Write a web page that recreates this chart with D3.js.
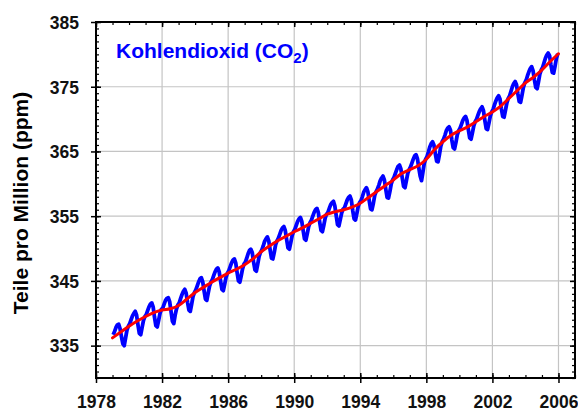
<!DOCTYPE html>
<html>
<head>
<meta charset="utf-8">
<script src="https://cdn.jsdelivr.net/npm/d3@7"></script>
<style>
  body { margin: 0; background: #fff; }
  svg { display: block; }
</style>
</head>
<body>
<svg id="chart" width="578" height="412"></svg>
<script>
// monthly CO2 (ppm), one row per year, Jan..Dec
const years = [1979, 1980, 1981, 1982, 1983, 1984, 1985, 1986, 1987, 1988, 1989, 1990, 1991, 1992,
  1993, 1994, 1995, 1996, 1997, 1998, 1999, 2000, 2001, 2002, 2003, 2004, 2005];
const monthly = [
  [336.7, 337.2, 337.8, 338.2, 338.3, 337.6, 336.4, 335.3, 335.0, 336.2, 337.4, 338.0],
  [338.4, 339.0, 339.6, 340.0, 340.3, 339.7, 338.2, 336.9, 336.7, 337.8, 338.9, 339.5],
  [339.8, 340.4, 341.0, 341.4, 341.6, 341.0, 339.4, 338.1, 337.9, 338.9, 340.0, 340.6],
  [340.8, 341.4, 342.0, 342.3, 342.4, 341.8, 340.3, 338.8, 338.4, 339.7, 340.7, 341.3],
  [341.6, 342.3, 342.9, 343.4, 343.7, 343.1, 341.7, 340.5, 340.3, 341.4, 342.6, 343.2],
  [343.6, 344.2, 344.8, 345.3, 345.5, 344.9, 343.5, 342.2, 342.0, 343.1, 344.2, 344.8],
  [345.2, 345.8, 346.4, 346.8, 347.0, 346.4, 345.0, 343.7, 343.5, 344.5, 345.6, 346.2],
  [346.6, 347.2, 347.8, 348.2, 348.4, 347.8, 346.3, 345.0, 344.8, 345.8, 346.9, 347.6],
  [347.9, 348.5, 349.2, 349.7, 349.9, 349.4, 347.9, 346.7, 346.5, 347.6, 348.8, 349.4],
  [349.8, 350.4, 351.1, 351.5, 351.8, 351.2, 349.8, 348.5, 348.4, 349.4, 350.6, 351.2],
  [351.6, 352.2, 352.8, 353.2, 353.4, 352.8, 351.4, 350.1, 349.9, 350.9, 352.0, 352.6],
  [353.0, 353.6, 354.2, 354.6, 354.8, 354.2, 352.8, 351.5, 351.3, 352.3, 353.4, 354.0],
  [354.4, 355.0, 355.6, 356.0, 356.2, 355.6, 354.1, 352.8, 352.6, 353.6, 354.7, 355.3],
  [355.6, 356.2, 356.8, 357.1, 357.3, 356.6, 355.1, 353.7, 353.5, 354.5, 355.5, 356.1],
  [356.3, 356.9, 357.5, 357.9, 358.1, 357.5, 355.9, 354.6, 354.4, 355.4, 356.5, 357.1],
  [357.4, 358.0, 358.7, 359.1, 359.4, 358.8, 357.4, 356.1, 356.0, 357.0, 358.2, 358.8],
  [359.2, 359.8, 360.5, 360.9, 361.2, 360.6, 359.2, 357.9, 357.8, 358.8, 360.0, 360.6],
  [361.0, 361.6, 362.2, 362.7, 362.9, 362.3, 360.9, 359.6, 359.4, 360.5, 361.6, 362.2],
  [362.6, 363.2, 363.8, 364.3, 364.5, 363.9, 362.5, 361.2, 360.5, 361.8, 363.2, 363.8],
  [364.2, 364.9, 365.7, 366.2, 366.5, 366.0, 364.7, 363.5, 363.4, 364.5, 365.8, 366.5],
  [366.9, 367.5, 368.2, 368.6, 368.8, 368.3, 366.8, 365.6, 365.4, 366.4, 367.6, 368.2],
  [368.6, 369.2, 369.8, 370.2, 370.4, 369.8, 368.4, 367.1, 366.9, 367.9, 369.0, 369.6],
  [370.0, 370.6, 371.2, 371.6, 371.9, 371.3, 369.8, 368.5, 368.4, 369.4, 370.5, 371.1],
  [371.5, 372.2, 372.8, 373.3, 373.6, 373.1, 371.6, 370.4, 370.3, 371.4, 372.5, 373.2],
  [373.6, 374.3, 375.0, 375.5, 375.8, 375.3, 373.9, 372.7, 372.6, 373.7, 374.9, 375.6],
  [376.0, 376.7, 377.3, 377.8, 378.1, 377.5, 376.1, 374.9, 374.7, 375.8, 377.0, 377.6],
  [378.0, 378.7, 379.4, 379.9, 380.2, 379.8, 378.4, 377.2, 377.1, 378.2, 379.4, 380.1]
];

// smoothed trend (red), half-year steps
const trendYears = [1979, 1979.5, 1980, 1980.5, 1981, 1981.5, 1982, 1982.5, 1983, 1983.5, 1984, 1984.5,
  1985, 1985.5, 1986, 1986.5, 1987, 1987.5, 1988, 1988.5, 1989, 1989.5, 1990, 1990.5, 1991, 1991.5,
  1992, 1992.5, 1993, 1993.5, 1994, 1994.5, 1995, 1995.5, 1996, 1996.5, 1997, 1997.5, 1998, 1998.5,
  1999, 1999.5, 2000, 2000.5, 2001, 2001.5, 2002, 2002.5, 2003, 2003.5, 2004, 2004.5, 2005, 2005.5, 2006];
const trendValues = [336.2, 337.1, 338.0, 338.8, 339.5, 340.1, 340.5, 340.7, 341.2, 342.2, 343.2, 344.0,
  344.8, 345.5, 346.2, 346.8, 347.5, 348.4, 349.5, 350.4, 351.2, 351.9, 352.6, 353.2, 353.9, 354.6,
  355.3, 355.7, 356.0, 356.4, 357.0, 357.9, 358.8, 359.7, 360.6, 361.6, 362.2, 362.8, 363.8, 365.3,
  366.5, 367.5, 368.2, 368.8, 369.6, 370.4, 371.1, 372.0, 373.2, 374.4, 375.6, 376.5, 377.6, 378.9, 380.1];

const xTicks = [1978, 1982, 1986, 1990, 1994, 1998, 2002, 2006];
const yTicks = [335, 345, 355, 365, 375, 385];
const xMinor = d3.range(1978, 2008);
const yMinor = d3.range(330, 386);

const title = "Kohlendioxid (CO";
const yTitle = "Teile pro Million (ppm)";

const font = "'Liberation Sans', Arial, sans-serif";

const svg = d3.select("#chart");
svg.append("rect").attr("width", 578).attr("height", 412).attr("fill", "#fff");

const x = d3.scaleLinear().domain([1978, 2007]).range([96, 575]);
const y = d3.scaleLinear().domain([330, 385]).range([378, 22]);

// grid
svg.append("g").selectAll("line.vx").data(xTicks.slice(1)).join("line")
  .attr("x1", d => x(d)).attr("x2", d => x(d))
  .attr("y1", y(330)).attr("y2", y(385))
  .attr("stroke", "#c4c4c4").attr("stroke-width", 1.2);
svg.append("g").selectAll("line.hy").data(yTicks.slice(0, -1)).join("line")
  .attr("y1", d => y(d)).attr("y2", d => y(d))
  .attr("x1", x(1978)).attr("x2", x(2007))
  .attr("stroke", "#c4c4c4").attr("stroke-width", 1.2);

// minor ticks, all pointing inward
const minor = (axis, tr) => svg.append("g").attr("transform", tr)
  .call(axis.tickSizeOuter(0).tickFormat(""))
  .call(g => g.select(".domain").remove())
  .call(g => g.selectAll("line").attr("stroke", "#000").attr("stroke-width", 1.2));
minor(d3.axisBottom(x).tickValues(xMinor).tickSize(-3), `translate(0,${y(330)})`);
minor(d3.axisTop(x).tickValues(xMinor).tickSize(-3), `translate(0,${y(385)})`);
minor(d3.axisLeft(y).tickValues(yMinor).tickSize(-3), `translate(${x(1978)},0)`);
minor(d3.axisRight(y).tickValues(yMinor).tickSize(-3), `translate(${x(2007)},0)`);

// major ticks, crossing the frame
const major = (axis, tr) => svg.append("g").attr("transform", tr)
  .call(axis.tickSizeOuter(0).tickFormat(""))
  .call(g => g.select(".domain").remove())
  .call(g => g.selectAll("line").attr("stroke", "#000").attr("stroke-width", 1.5));
major(d3.axisBottom(x).tickValues(xTicks).tickSize(5), `translate(0,${y(330)})`);
major(d3.axisBottom(x).tickValues(xTicks).tickSize(-5), `translate(0,${y(330)})`);
major(d3.axisTop(x).tickValues(xTicks).tickSize(-5), `translate(0,${y(385)})`);
major(d3.axisLeft(y).tickValues(yTicks).tickSize(5), `translate(${x(1978)},0)`);
major(d3.axisLeft(y).tickValues(yTicks).tickSize(-5), `translate(${x(1978)},0)`);
major(d3.axisRight(y).tickValues(yTicks).tickSize(-5), `translate(${x(2007)},0)`);

// tick labels
svg.append("g").attr("transform", `translate(0,${y(330)})`)
  .call(d3.axisBottom(x).tickValues(xTicks).tickSize(0).tickPadding(0).tickFormat(d3.format("d")))
  .call(g => g.select(".domain").remove())
  .call(g => g.selectAll("text").attr("y", 30).attr("dy", null)
    .attr("font-family", font).attr("font-size", 17.5).attr("font-weight", "bold").attr("fill", "#111"));
svg.append("g").attr("transform", `translate(${x(1978)},0)`)
  .call(d3.axisLeft(y).tickValues(yTicks).tickSize(0).tickPadding(17).tickFormat(d3.format("d")))
  .call(g => g.select(".domain").remove())
  .call(g => g.selectAll("text").attr("dy", "0.36em")
    .attr("font-family", font).attr("font-size", 17.5).attr("font-weight", "bold").attr("fill", "#111"));

// frame
svg.append("rect")
  .attr("x", x(1978)).attr("y", y(385))
  .attr("width", x(2007) - x(1978)).attr("height", y(330) - y(385))
  .attr("fill", "none").attr("stroke", "#000").attr("stroke-width", 2);

// monthly series
const points = [];
years.forEach((yr, i) => monthly[i].forEach((v, m) => points.push([yr + (m + 0.5) / 12, v])));

svg.append("path").datum(points)
  .attr("fill", "none").attr("stroke", "#0000ff").attr("stroke-width", 3.8)
  .attr("stroke-linejoin", "round")
  .attr("d", d3.line().x(d => x(d[0])).y(d => y(d[1])));

// trend
svg.append("path").datum(trendYears.map((t, i) => [t, trendValues[i]]))
  .attr("fill", "none").attr("stroke", "#ff0000").attr("stroke-width", 3)
  .attr("stroke-linejoin", "round").attr("stroke-linecap", "round")
  .attr("d", d3.line().curve(d3.curveMonotoneX).x(d => x(d[0])).y(d => y(d[1])));

// titles
const t = svg.append("text").attr("x", 116).attr("y", 58)
  .attr("font-family", font).attr("font-size", 21).attr("font-weight", "bold").attr("fill", "#0000ff");
t.append("tspan").text(title);
t.append("tspan").attr("font-size", 15).attr("dy", 5).text("2");
t.append("tspan").attr("dy", -5).text(")");

svg.append("text")
  .attr("transform", `translate(28,${(y(330) + y(385)) / 2 + 3}) rotate(-90)`)
  .attr("text-anchor", "middle")
  .attr("font-family", font).attr("font-size", 21).attr("font-weight", "bold").attr("fill", "#000")
  .text(yTitle);
</script>
</body>
</html>
